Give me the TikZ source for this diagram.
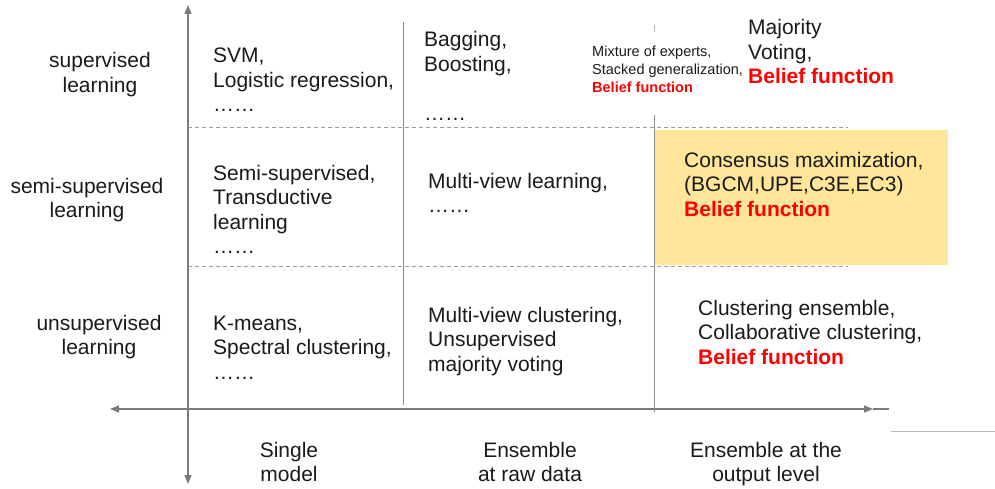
\documentclass[tikz,border=0pt]{standalone}
\usepackage{fontspec}
\setmainfont{Liberation Sans}
\usetikzlibrary{arrows.meta}
\definecolor{txt}{HTML}{1A1A1A}
\definecolor{axisgray}{HTML}{7A7A7A}
\definecolor{cellgray}{HTML}{8C8C8C}
\definecolor{dashgray}{HTML}{9A9A9A}
\definecolor{hl}{HTML}{FFE699}
\definecolor{bf}{HTML}{FF0000}
\newcommand{\belief}{\textcolor{bf}{\bfseries Belief function}}
\begin{document}
\begin{tikzpicture}[x=1pt,y=-1pt,
  lbl/.style={inner sep=0pt, anchor=base west, align=left, font=\fontsize{21}{24.5}\selectfont, text=txt},
  clbl/.style={lbl, anchor=base, align=center},
  smalllbl/.style={lbl, font=\fontsize{14.5}{18}\selectfont},
  axisline/.style={draw=axisgray, line width=1.3pt},
  cellline/.style={draw=cellgray, line width=1pt},
  dashline/.style={draw=dashgray, line width=1pt, dash pattern=on 4pt off 3pt}
]
\useasboundingbox (0,0) rectangle (995,489);
% highlight box
\fill[hl] (655,130) rectangle (948,265);
% axes
\coordinate (vtop) at (188,5);
\coordinate (vbot) at (188,484);
\coordinate (hleft) at (110,409);
\coordinate (hright) at (873,409);
\coordinate (hend) at (889,409);
\draw[axisline, {Triangle[length=9pt,width=7pt]}-{Triangle[length=9pt,width=7pt]}] (vtop) -- (vbot);
\draw[axisline, {Triangle[length=9pt,width=7pt]}-{Triangle[length=9pt,width=7pt]}] (hleft) -- (hright);
\draw[axisline] (hright) -- (hend);
% cell separators
\coordinate (v2t) at (403,22);
\coordinate (v2b) at (403,405);
\coordinate (v3t) at (654,115);
\coordinate (v3b) at (654,412);
\coordinate (tickt) at (654,25);
\coordinate (tickb) at (654,32);
\draw[cellline] (v2t) -- (v2b);
\draw[cellline] (v3t) -- (v3b);
\draw[draw=cellgray!70, line width=0.8pt] (tickt) -- (tickb);
\coordinate (d1l) at (188,128);
\coordinate (d1r) at (848,128);
\coordinate (d2l) at (188,266);
\coordinate (d2r) at (848,266);
\draw[dashline] (d1l) -- (d1r);
\draw[dashline] (d2l) -- (d2r);
\coordinate (sl) at (891,431);
\coordinate (sr) at (995,431);
\draw[draw=cellgray!60, line width=1pt] (sl) -- (sr);
% row labels (anchor = baseline of last line)
\node[clbl] (sup) at (100,92.5) {supervised\\learning};
\node[clbl] (semi) at (87,217.5) {semi-supervised\\learning};
\node[clbl] (unsup) at (99,354.5) {unsupervised\\learning};
% column 1
\node[lbl] (c11) at (213,112) {SVM,\\Logistic regression,\\……};
\node[lbl] (c21) at (213,253.5) {Semi-supervised,\\Transductive\\learning\\……};
\node[lbl] (c31) at (213,379) {K-means,\\Spectral clustering,\\……};
% column 2
\node[lbl] (c12) at (424,120.5) {Bagging,\\Boosting,\\[24.5pt]……};
\node[lbl] (c22) at (428,212.5) {Multi-view learning,\\……};
\node[lbl] (c32) at (428,371) {Multi-view clustering,\\Unsupervised\\majority voting};
% column 3
\node[smalllbl] (c13a) at (592,93) {Mixture of experts,\\Stacked generalization,\\\belief};
\node[lbl] (c13b) at (748,84) {Majority\\Voting,\\\belief};
\node[lbl] (c23) at (684,216) {Consensus maximization,\\(BGCM,UPE,C3E,EC3)\\\belief};
\node[lbl] (c33) at (698,364) {Clustering ensemble,\\Collaborative clustering,\\\belief};
% column labels
\node[clbl] (single) at (289,481.5) {Single\\model};
\node[clbl] (raw) at (530,481.5) {Ensemble\\at raw data};
\node[clbl] (out) at (766,481.5) {Ensemble at the\\output level};
\end{tikzpicture}
\end{document}
